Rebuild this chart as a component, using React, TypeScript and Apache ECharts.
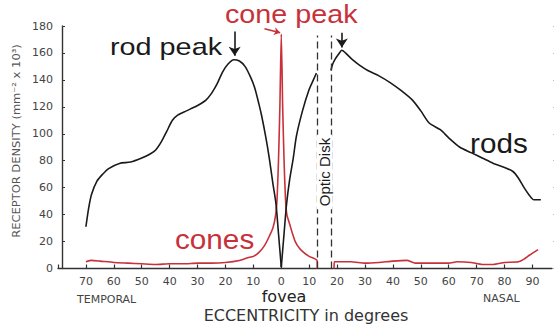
import React, { useEffect, useRef } from "react";
import * as echarts from "echarts";

// Eccentricity in degrees (negative = temporal, positive = nasal)
const rodsTemporal: [number, number][] = [
  [-70, 31], [-69, 45], [-68, 55], [-66, 65], [-64, 70], [-62, 74], [-58, 78], [-54, 79],
  [-50, 82], [-47, 85], [-45, 88], [-43, 94], [-41, 102], [-39, 110], [-37, 114], [-34, 117],
  [-30, 121], [-27, 125], [-25, 130], [-23, 137], [-21, 146], [-19, 152], [-17, 155],
  [-15, 154], [-13, 150], [-11, 142], [-9.5, 134], [-8, 122], [-7, 113], [-5.5, 97],
  [-4.3, 82], [-3, 63], [-1.9, 48], [-1, 26], [0, 1],
];
const rodsNasal: [number, number][] = [
  [0, 1], [1, 26], [1.9, 48], [3, 66], [4.3, 82], [5.4, 98], [7.6, 117], [10, 133],
  [11.5, 140], [12.6, 145],
];
const rodsNasalFar: [number, number][] = [
  [17.8, 147], [18.3, 151], [19.2, 155], [20.5, 159], [21.7, 162], [23, 160], [25.5, 155],
  [28, 151], [31, 147], [35, 143], [39, 138], [43, 132], [47, 125], [50, 117], [53, 108],
  [57, 103], [60, 97], [64, 90], [68, 86], [72, 82], [76, 78], [80, 75], [83, 72], [85, 67],
  [87, 60], [89, 54], [90.5, 51], [93, 51],
];
const cones: [number, number | null][] = [
  [-70, 5], [-68, 6], [-65, 5.5], [-60, 4.5], [-55, 4], [-50, 3.5], [-45, 3], [-40, 3.5],
  [-35, 3.5], [-30, 4], [-25, 4], [-20, 4.5], [-15, 6], [-12, 8], [-10, 9], [-8, 12],
  [-6, 17], [-4.5, 23], [-3, 30], [-2, 40], [-1.5, 52], [-1, 80], [-0.5, 120], [0, 174],
  [0.5, 120], [1, 80], [1.5, 52], [2, 40], [3, 33], [4, 26], [5, 20], [6.5, 15], [8, 12],
  [10, 9], [12.8, 6], [12.9, 0], [15, null], [18.9, 0], [19, 5], [25, 5], [30, 4],
  [35, 4.5], [40, 5.5], [45, 6], [48, 4], [55, 4], [60, 4], [63, 5], [68, 4.5], [72, 3],
  [76, 3], [80, 4.5], [85, 5], [87, 7], [89, 10], [92, 14],
];
const opticDiskEdges = [12.8, 17.8];
const rodPeakArrows: [number, number, number][] = [
  // x, from, to
  [-16.7, 176, 158],
  [21.7, 175, 164],
];
const conePeakArrow: [number, number][] = [[-6, 178], [-0.4, 175]];
const yTicks = { min: 0, max: 180, interval: 20 };
const xTicks = { min: -80, max: 97, interval: 10 };

const RED = "#c8313a";
const BLACK = "#1a1a1a";

export default function App() {
  const ref = useRef<HTMLDivElement>(null);
  useEffect(() => {
    if (!ref.current) return;
    const chart = echarts.init(ref.current, null, { renderer: "svg" });
    const rodLine = { color: BLACK, width: 1.6 };
    chart.setOption({
      animation: false,
      grid: { left: 58, right: 2, top: 26, bottom: 58.5 },
      xAxis: {
        type: "value",
        min: xTicks.min,
        max: xTicks.max,
        interval: xTicks.interval,
        splitLine: { show: false },
        axisLine: { onZero: false, lineStyle: { color: "#333", width: 1.4 } },
        axisTick: { inside: true, length: 4, lineStyle: { color: "#333", width: 1.2 } },
        axisLabel: {
          margin: 7,
          fontSize: 11,
          color: "#444",
          fontFamily: "DejaVu Sans",
          showMaxLabel: false,
          formatter: (v: number) => (v === -80 || v > 90 ? "" : String(Math.abs(v))),
        },
      },
      yAxis: [
        {
          type: "value",
          min: yTicks.min,
          max: yTicks.max,
          interval: yTicks.interval,
          offset: -4,
          splitLine: { show: false },
          axisLine: { show: true, onZero: false, lineStyle: { color: "#333", width: 1.4 } },
          axisTick: { show: true, inside: true, length: 3, lineStyle: { color: "#333" } },
          axisLabel: { margin: 9, fontSize: 11, color: "#444", fontFamily: "DejaVu Sans" },
        },
        {
          type: "value",
          position: "right",
          min: yTicks.min,
          max: yTicks.max,
          interval: yTicks.interval,
          offset: 1,
          splitLine: { show: false },
          axisLine: { show: false, onZero: false },
          axisTick: { show: true, length: 2, lineStyle: { color: "#bbb" } },
          axisLabel: { show: false },
        },
      ],
      series: [
        {
          type: "line",
          data: cones,
          showSymbol: false,
          smooth: 0.2,
          connectNulls: false,
          lineStyle: { color: RED, width: 1.6 },
          z: 3,
        },
        { type: "line", data: rodsTemporal, showSymbol: false, smooth: 0.25, lineStyle: rodLine, z: 4 },
        { type: "line", data: rodsNasal, showSymbol: false, smooth: 0.25, lineStyle: rodLine, z: 4 },
        { type: "line", data: rodsNasalFar, showSymbol: false, smooth: 0.25, lineStyle: rodLine, z: 4 },
        {
          type: "line",
          data: [],
          markLine: {
            silent: true,
            symbol: "none",
            label: { show: false },
            lineStyle: { color: "#333", width: 1.3, type: [7, 4] },
            data: opticDiskEdges.map((x) => [{ coord: [x, 0] }, { coord: [x, 173] }]),
          },
        },
        {
          type: "line",
          data: [],
          markLine: {
            silent: true,
            symbol: ["none", "arrow"],
            symbolSize: 9,
            label: { show: false },
            lineStyle: { color: BLACK, width: 1.6, type: "solid" },
            itemStyle: { color: BLACK },
            data: rodPeakArrows.map(([x, a, b]) => [{ coord: [x, a] }, { coord: [x, b] }]),
          },
        },
        {
          type: "line",
          data: [],
          markLine: {
            silent: true,
            symbol: ["none", "arrow"],
            symbolSize: 6,
            label: { show: false },
            lineStyle: { color: RED, width: 1.6, type: "solid" },
            itemStyle: { color: RED },
            data: [[{ coord: conePeakArrow[0] }, { coord: conePeakArrow[1] }]],
          },
        },
      ],
      graphic: [
        {
          type: "text", x: 110, y: 47, scaleX: 1.2,
          style: { text: "rod peak", fontSize: 24, fontFamily: "Liberation Sans", fill: BLACK, verticalAlign: "middle" },
        },
        {
          type: "text", x: 225, y: 15, scaleX: 1.15,
          style: { text: "cone peak", fontSize: 25, fontFamily: "Liberation Sans", fill: RED, verticalAlign: "middle" },
        },
        {
          type: "text", x: 175, y: 239, scaleX: 1.1,
          style: { text: "cones", fontSize: 27, fontFamily: "Liberation Sans", fill: RED, verticalAlign: "middle" },
        },
        {
          type: "text", x: 470, y: 143, scaleX: 1.06,
          style: { text: "rods", fontSize: 28, fontFamily: "Liberation Sans", fill: BLACK, verticalAlign: "middle" },
        },
        {
          type: "text", x: 324.5, y: 172, rotation: Math.PI / 2, z: 100,
          style: {
            text: "Optic Disk", fontSize: 15, fontFamily: "Liberation Sans", fill: BLACK,
            align: "center", verticalAlign: "middle", backgroundColor: "#fff", padding: [0, 3],
          },
        },
        {
          type: "text", x: 284, y: 296,
          style: { text: "fovea", fontSize: 16, fontFamily: "DejaVu Sans", fill: "#222", align: "center", verticalAlign: "middle" },
        },
        {
          type: "text", x: 306, y: 315,
          style: { text: "ECCENTRICITY in degrees", fontSize: 16, fontFamily: "DejaVu Sans", fill: "#333", align: "center", verticalAlign: "middle" },
        },
        {
          type: "text", x: 77, y: 299, scaleX: 1.1,
          style: { text: "TEMPORAL", fontSize: 10, fontFamily: "DejaVu Sans", fill: "#444", verticalAlign: "middle" },
        },
        {
          type: "text", x: 483, y: 298, scaleX: 1.1,
          style: { text: "NASAL", fontSize: 10, fontFamily: "DejaVu Sans", fill: "#444", verticalAlign: "middle" },
        },
        {
          type: "text", x: 17, y: 141, rotation: Math.PI / 2, scaleX: 1.15,
          style: { text: "RECEPTOR DENSITY (mm⁻² x 10³)", fontSize: 10, fontFamily: "DejaVu Sans", fill: "#555", align: "center", verticalAlign: "middle" },
        },
      ],
    });
    return () => chart.dispose();
  }, []);
  return <div ref={ref} style={{ width: 554, height: 327, position: "absolute", left: 0, top: 0 }} />;
}
